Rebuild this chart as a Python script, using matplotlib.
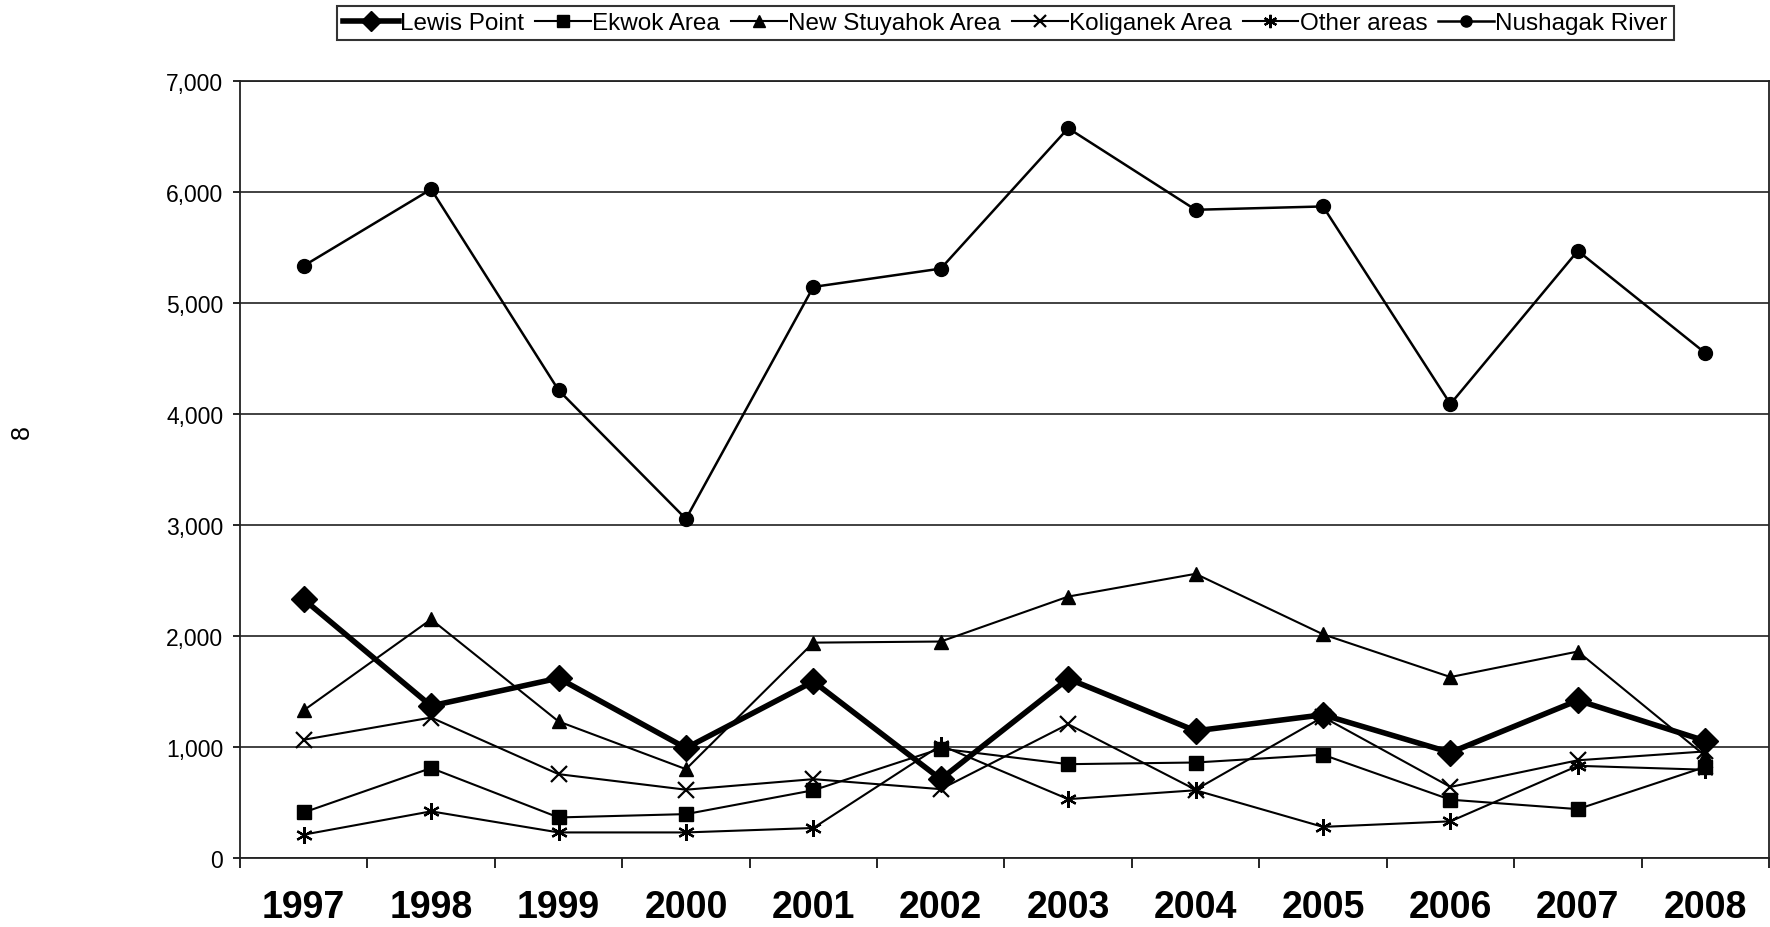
import matplotlib
matplotlib.use("Agg")
import matplotlib.pyplot as plt
from matplotlib.ticker import FuncFormatter, FixedLocator
import numpy as np

plt.rcParams['font.family'] = ['Liberation Sans', 'DejaVu Sans']

years = ["1997", "1998", "1999", "2000", "2001", "2002", "2003", "2004", "2005", "2006", "2007", "2008"]

lewis_point = [2330, 1370, 1620, 990, 1590, 710, 1615, 1145, 1290, 950, 1420, 1055]
ekwok_area = [410, 810, 365, 395, 610, 985, 845, 860, 930, 525, 440, 820]
new_stuyahok_area = [1330, 2150, 1230, 800, 1940, 1950, 2355, 2560, 2015, 1630, 1860, 920]
koliganek_area = [1065, 1265, 755, 615, 710, 620, 1205, 615, 1270, 640, 880, 960]
other_areas = [210, 420, 230, 230, 270, 1015, 530, 610, 280, 330, 830, 795]
nushagak_river = [5335, 6025, 4215, 3055, 5145, 5310, 6575, 5840, 5870, 4090, 5470, 4550]

series_names = ["Lewis Point", "Ekwok Area", "New Stuyahok Area", "Koliganek Area", "Other areas", "Nushagak River"]

fig = plt.figure(figsize=(17.7, 9.28), dpi=100)
ax = fig.add_axes([0.1356, 0.0744, 0.8638, 0.8372])

x = np.arange(len(years))

# thin series first
ax.plot(x, ekwok_area, color='black', lw=1.5, marker='s', ms=10, mfc='black', mec='black', label=series_names[1], zorder=3)
ax.plot(x, new_stuyahok_area, color='black', lw=1.5, marker='^', ms=10, mfc='black', mec='black', label=series_names[2], zorder=3)
ax.plot(x, koliganek_area, color='black', lw=1.5, marker='x', ms=11, mew=1.6, label=series_names[3], zorder=3)
ax.plot(x, other_areas, color='black', lw=1.5, marker=(6, 2, 0), ms=12, mew=1.6, label=series_names[4], zorder=3)
ax.plot(x, nushagak_river, color='black', lw=1.8, marker='o', ms=10, mfc='black', mec='black', label=series_names[5], zorder=3)
ax.plot(x, lewis_point, color='black', lw=4, marker='D', ms=13, mfc='black', mec='black', label=series_names[0], zorder=4)

ax.set_xlim(-0.5, len(years) - 0.5)
ax.set_ylim(0, 7000)
ax.set_yticks(np.arange(0, 7001, 1000))
ax.yaxis.set_major_formatter(FuncFormatter(lambda v, p: f"{int(v):,}"))
ax.grid(axis='y', color='#333333', lw=1.3)
ax.set_axisbelow(True)

ax.set_xticks(x)
ax.set_xticklabels(years, fontsize=27, fontweight='bold')
ax.xaxis.set_minor_locator(FixedLocator(np.arange(-0.5, len(years), 1.0)))
ax.tick_params(axis='x', which='major', length=0, pad=22)
ax.tick_params(axis='x', which='minor', length=7, width=1.2, direction='out')
ax.tick_params(axis='y', which='major', length=5, width=1.2, direction='out', labelsize=16.5, pad=7)

for s in ax.spines.values():
    s.set_color('#222222')
    s.set_linewidth(1.3)

# Legend in the original order
handles, labels = ax.get_legend_handles_labels()
order = [labels.index(n) for n in series_names]
leg = fig.legend([handles[i] for i in order], [labels[i] for i in order],
                 loc='center', bbox_to_anchor=(0.568, 0.974), ncol=6,
                 fontsize=17.5, frameon=True, fancybox=False, edgecolor='black',
                 handlelength=2.3, handletextpad=0.05, columnspacing=0.45,
                 borderpad=0.25, borderaxespad=0.0, markerscale=0.8)
leg.get_frame().set_linewidth(1.5)

fig.text(0.0124, 0.534, "8", rotation=90, fontsize=18, ha='center', va='center')

fig.savefig("out.png", dpi=100)
